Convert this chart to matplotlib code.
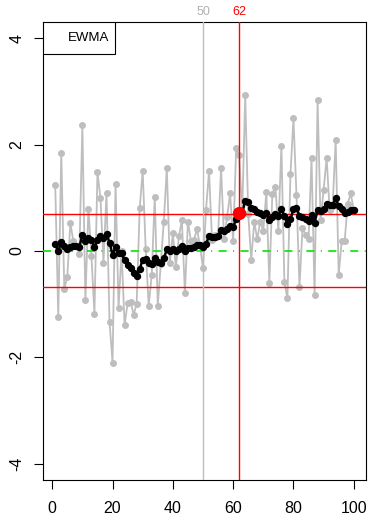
import matplotlib
matplotlib.use('Agg')
import matplotlib.pyplot as plt
from matplotlib.patches import Rectangle
import matplotlib.transforms as mtrans

plt.rcParams['font.family'] = ['Liberation Sans', 'DejaVu Sans']

# ---- data ----
obs = list(range(1, 101))
values = [1.24, -1.24, 1.84, -0.71, -0.49, 0.52, 0.19, 0.10, -0.05, 2.36,
          -0.93, 0.79, -0.10, -1.18, 1.48, 0.99, -0.22, 1.09, -1.33, -2.10,
          1.26, -1.07, 0.00, -1.40, -0.98, -0.96, -1.20, -1.00, 0.80, 1.50,
          0.03, -1.03, -0.45, 1.02, -1.03, -0.25, 0.55, 1.55, -0.23, 0.33,
          -0.31, 0.27, 0.58, -0.80, 0.55, 0.19, 0.20, 0.41, 0.10, -0.33,
          0.77, 1.50, 0.20, 0.30, 0.30, 1.55, 0.22, 0.64, 1.08, 0.19,
          1.93, 1.80, 0.69, 2.93, 0.70, -0.17, 0.55, 0.22, 0.55, 0.38,
          1.10, -0.60, 1.07, 1.21, 0.38, 1.98, -0.59, -0.89, 1.44, 2.49,
          1.05, -0.68, 0.43, 0.30, 0.22, 1.74, -0.83, 2.83, 0.58, 1.14,
          1.75, 0.77, 0.85, 2.08, -0.45, 0.19, 0.19, 0.89, 1.08, 0.77]
ewma = [0.124, -0.012, 0.173, 0.085, 0.027, 0.076, 0.088, 0.089, 0.075, 0.304,
        0.180, 0.241, 0.207, 0.068, 0.210, 0.288, 0.237, 0.322, 0.157, -0.069,
        0.064, -0.049, -0.044, -0.180, -0.260, -0.330, -0.417, -0.475, -0.348, -0.163,
        -0.144, -0.232, -0.254, -0.127, -0.217, -0.220, -0.143, 0.026, 0.000, 0.033,
        -0.001, 0.026, 0.082, -0.007, 0.049, 0.063, 0.077, 0.110, 0.109, 0.065,
        0.136, 0.272, 0.265, 0.269, 0.272, 0.400, 0.382, 0.407, 0.475, 0.446,
        0.595, 0.715, 0.713, 0.934, 0.911, 0.803, 0.778, 0.722, 0.705, 0.672,
        0.715, 0.583, 0.632, 0.690, 0.659, 0.791, 0.653, 0.499, 0.593, 0.782,
        0.809, 0.660, 0.637, 0.604, 0.565, 0.683, 0.531, 0.761, 0.743, 0.783,
        0.880, 0.869, 0.867, 0.988, 0.844, 0.779, 0.720, 0.737, 0.771, 0.771]

center = 0.0
ucl = 0.688
lcl = -0.688
start_obs = 50
signal_obs = 62
xticks = [0, 20, 40, 60, 80, 100]
yticks = [-4, -2, 0, 2, 4]
legend_label = "EWMA"

# ---- figure ----
W, H = 371, 521
fig = plt.figure(figsize=(W / 100, H / 100), dpi=100)
L, R, T, B = 43.3, 365.7, 21.7, 480.0
ax = fig.add_axes([L / W, 1 - B / H, (R - L) / W, (B - T) / H])
ax.set_xlim(-2.96, 103.96)
ax.set_ylim(-4.31, 4.31)

gray = '#BEBEBE'
ax.plot(obs, values, color=gray, lw=1.3, marker='o', ms=4, mec=gray, mfc=gray, zorder=2)
lw_g = 1.2
ax.axhline(center, color='#00E600', lw=lw_g,
           dashes=(5.8 / lw_g, 4.6 / lw_g, 0.8 / lw_g, 4.6 / lw_g), zorder=3)
ax.axhline(ucl, color='red', lw=1.0, zorder=3)
ax.axhline(lcl, color='red', lw=1.0, zorder=3)
ax.axvline(start_obs, color=gray, lw=1.0, zorder=3)
ax.axvline(signal_obs, color='red', lw=1.0, zorder=3)
ax.plot(obs, ewma, color='black', lw=1.8, marker='o', ms=4.3, mec='black', mfc='black', zorder=4)
ax.plot([signal_obs], [ewma[signal_obs - 1]], 'o', color='red', ms=8.5, zorder=5)

ax.set_xticks(xticks)
ax.set_yticks(yticks)
ax.set_xticklabels([str(t) for t in xticks], fontsize=11.5)
ax.set_yticklabels([str(t) for t in yticks], fontsize=11.5,
                   rotation=90, va='center')
ax.tick_params(direction='out', length=6.8, width=0.8, color='black')
ax.tick_params(axis='x', pad=8)
ax.tick_params(axis='y', pad=7)
for s in ax.spines.values():
    s.set_linewidth(0.8)

trans = mtrans.blended_transform_factory(ax.transData, ax.transAxes)
ax.annotate(str(start_obs), xy=(start_obs, 1), xycoords=trans, xytext=(0, 2.5),
            textcoords='offset points', ha='center', va='bottom', color='#B0B0B0', fontsize=9)
ax.annotate(str(signal_obs), xy=(signal_obs, 1), xycoords=trans, xytext=(0, 2.5),
            textcoords='offset points', ha='center', va='bottom', color='red', fontsize=9)

ax.add_patch(Rectangle((0, 1 - 32.3 / (B - T)), 72 / (R - L), 32.3 / (B - T),
                       transform=ax.transAxes, fill=True, fc='white', ec='black', lw=0.8, zorder=6))
ax.text(24.7 / (R - L), 1 - 16.6 / (B - T), legend_label, transform=ax.transAxes,
        ha='left', va='center', fontsize=9.5, zorder=7)

fig.savefig('out.png', dpi=100)
